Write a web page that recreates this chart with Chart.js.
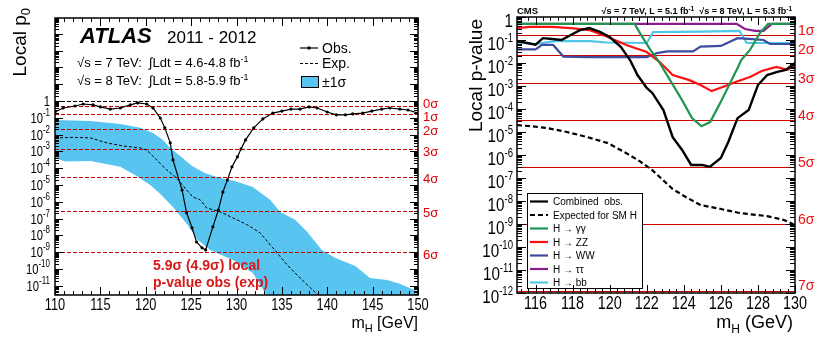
<!DOCTYPE html>
<html>
<head>
<meta charset="utf-8">
<title>Local p-value: ATLAS and CMS</title>
<script src="https://cdn.jsdelivr.net/npm/chart.js@4.4.1/dist/chart.umd.min.js"></script>
<style>
  html, body { margin: 0; padding: 0; background: #fff; }
  #wrap { position: relative; width: 823px; height: 341px; overflow: hidden; }
  canvas { position: absolute; top: 0; }
  #atlasChart { left: 0; }
  #cmsChart { left: 445px; }
</style>
</head>
<body>
<div id="wrap">
  <canvas id="atlasChart" width="445" height="341" style="width:445px;height:341px"></canvas>
  <canvas id="cmsChart" width="378" height="341" style="width:378px;height:341px"></canvas>
</div>
<script>
// ---------- left panel: ATLAS ----------
const atlasObsMass = [110.0, 110.9, 112.2, 113.1, 114.2, 115.0, 116.1, 117.2, 118.3, 119.1, 120.1, 120.8, 121.6, 122.1, 122.7, 123.0, 124.0, 124.5, 125.1, 125.6, 126.2, 126.6, 127.4, 128.0, 128.5, 129.0, 129.5, 130.1, 130.5, 131.0, 131.9, 132.9, 134.0, 135.0, 136.0, 137.0, 138.0, 138.9, 140.0, 141.0, 142.0, 142.8, 143.9, 144.9, 146.0, 146.9, 148.0, 148.9, 150.0];
const atlasObsP = [0.22, 0.38, 0.50, 0.66, 0.58, 0.44, 0.33, 0.38, 0.58, 0.76, 0.66, 0.38, 0.097, 0.025, 3.2e-3, 3.1e-4, 5e-6, 2.2e-7, 2.8e-8, 4e-9, 1.8e-9, 1.35e-9, 3.2e-8, 3.2e-7, 3.8e-6, 2e-5, 1.2e-4, 4.7e-4, 1.4e-3, 4.8e-3, 0.025, 0.085, 0.19, 0.25, 0.33, 0.33, 0.44, 0.38, 0.22, 0.15, 0.15, 0.17, 0.19, 0.25, 0.33, 0.38, 0.33, 0.29, 0.19];

const atlasExpMass = [110.0, 112.0, 113.9, 115.7, 117.5, 119.4, 120.1, 121.0, 122.3, 123.4, 124.5, 125.2, 126.0, 126.7, 128.2, 129.6, 131.2, 132.6, 134.0, 135.6, 137.0, 138.4, 139.0];
const atlasExpP = [6.3e-3, 6.8e-3, 6.3e-3, 3.2e-3, 2.1e-3, 1.6e-3, 1.2e-3, 4e-4, 7.9e-5, 2.6e-5, 5e-6, 1.9e-6, 1.3e-6, 4.3e-7, 2.5e-7, 1.1e-7, 4.2e-8, 1.4e-8, 1.8e-9, 1.7e-10, 2.9e-11, 5.6e-12, 2.8e-12];

// +1 sigma edge and -1 sigma edge of the expected band
const atlasBandHiMass = [110.0, 113.9, 117.2, 119.4, 120.8, 121.9, 122.7, 123.8, 125.1, 126.5, 128.2, 129.8, 131.8, 133.7, 134.8, 136.5, 137.8, 139.4, 140.9, 143.1, 144.7, 146.6, 148.0, 150.0];
const atlasBandHiP = [0.074, 0.065, 0.043, 0.025, 0.0125, 4.8e-3, 1.6e-3, 5.3e-4, 1.35e-4, 5.2e-5, 2.6e-5, 1.7e-5, 7.6e-6, 1.3e-6, 2.5e-7, 8.3e-8, 1.6e-8, 1.35e-9, 4.5e-10, 1.5e-10, 2.9e-11, 2.2e-11, 1.3e-11, 4.3e-12];
const atlasBandLoMass = [110.0, 111.1, 113.9, 117.2, 119.0, 120.5, 121.6, 123.0, 124.6, 125.7, 127.1, 129.6, 131.8, 133.3, 134.8, 150.0];
const atlasBandLoP = [4e-4, 2.5e-4, 2.7e-4, 1.2e-4, 3.4e-5, 1e-5, 2.9e-6, 4.9e-7, 4.2e-8, 5.4e-9, 1.35e-9, 3.4e-10, 5.8e-11, 2.8e-12, 1e-13, 1e-13];

const atlasMassTicks = [110, 115, 120, 125, 130, 135, 140, 145, 150];
const atlasPExps = [0, -1, -2, -3, -4, -5, -6, -7, -8, -9, -10, -11];
const atlasSigmaP = [0.5, 0.1587, 0.02275, 1.35e-3, 3.17e-5, 2.87e-7, 9.87e-10];
const atlasSigmaLabels = ['0σ', '1σ', '2σ', '3σ', '4σ', '5σ', '6σ'];

// ---------- right panel: CMS ----------
const cmsCombMass = [115.0, 116.0, 116.4, 116.9, 117.4, 117.9, 118.4, 118.9, 119.5, 120.0, 120.6, 121.1, 121.5, 122.0, 122.3, 122.9, 123.4, 123.9, 124.4, 125.0, 125.4, 126.0, 126.4, 126.9, 127.5, 128.0, 128.5, 129.0, 129.5, 130.0];
const cmsCombP = [0.091, 0.063, 0.12, 0.11, 0.10, 0.165, 0.27, 0.33, 0.22, 0.135, 0.05, 0.0135, 3e-3, 8.2e-4, 5e-4, 9e-5, 6e-6, 1.7e-6, 3.7e-7, 3.7e-7, 3e-7, 7.4e-7, 3.7e-6, 4e-5, 9e-5, 1.1e-3, 3e-3, 4e-3, 5e-3, 0.01];
const cmsExpMass = [115.0, 115.7, 116.6, 117.7, 118.8, 119.9, 120.9, 121.6, 122.3, 122.7, 123.4, 124.2, 124.9, 126.0, 127.0, 128.5, 129.4, 130.0];
const cmsExpP = [2e-5, 1.8e-5, 1.5e-5, 1e-5, 6e-6, 3.3e-6, 1.2e-6, 5.5e-7, 2.2e-7, 1.1e-7, 3.3e-8, 1.35e-8, 6.7e-9, 4.5e-9, 3e-9, 2.2e-9, 1.5e-9, 9e-10];
const cmsGamMass = [115.0, 121.35, 121.65, 122.2, 122.6, 123.26, 123.9, 124.44, 124.95, 125.42, 125.96, 126.5, 126.93, 127.1, 127.57, 128.1, 128.55, 130.0];
const cmsGamP = [0.5, 0.5, 0.19, 0.037, 0.0135, 1.8e-3, 2.5e-4, 4e-5, 1.8e-5, 2.7e-5, 1.8e-4, 1.35e-3, 6.7e-3, 0.0135, 0.037, 0.2, 0.5, 0.5];
const cmsZZMass = [115.0, 115.7, 116.9, 117.9, 118.9, 119.9, 120.9, 122.0, 122.7, 123.4, 124.3, 124.9, 125.5, 126.1, 126.8, 127.6, 128.2, 129.0, 129.6, 130.0];
const cmsZZP = [0.33, 0.37, 0.37, 0.33, 0.27, 0.135, 0.061, 0.03, 0.011, 3e-3, 1.8e-3, 1.1e-3, 6e-4, 9e-4, 1.5e-3, 2.5e-3, 4.5e-3, 6.7e-3, 5e-3, 8e-3];
const cmsWWMass = [115.0, 116.0, 116.35, 116.95, 117.5, 118.8, 122.0, 122.55, 123.1, 124.5, 124.9, 126.0, 126.9, 127.7, 128.3, 128.65, 130.0];
const cmsWWP = [0.039, 0.039, 0.061, 0.061, 0.019, 0.018, 0.018, 0.027, 0.032, 0.032, 0.052, 0.055, 0.12, 0.11, 0.10, 0.067, 0.067];
const cmsTauMass = [115.0, 126.85, 127.3, 127.85, 128.3, 128.75, 130.0];
const cmsTauP = [0.5, 0.5, 0.3, 0.25, 0.25, 0.5, 0.5];
const cmsBBMass = [115.0, 116.0, 117.05, 118.95, 119.85, 122.0, 122.35, 124.9, 127.0, 127.4, 130.0];
const cmsBBP = [0.078, 0.067, 0.09, 0.09, 0.078, 0.074, 0.22, 0.23, 0.25, 0.074, 0.074];

const cmsMassTicks = [116, 118, 120, 122, 124, 126, 128, 130];
const cmsPExps = [0, -1, -2, -3, -4, -5, -6, -7, -8, -9, -10, -11, -12];
const cmsSigmaP = [0.1587, 0.02275, 1.35e-3, 3.17e-5, 2.87e-7, 9.87e-10, 1.28e-12];
const cmsSigmaLabels = ['1σ', '2σ', '3σ', '4σ', '5σ', '6σ', '7σ'];

const FONT = "'Liberation Sans', Arial, Helvetica, sans-serif";
const NARROW = 0.8;   // horizontal squeeze used for the tick numbers

const pts = (xs, ys) => xs.map((x, i) => ({ x: x, y: ys[i] }));

// draw a row of text pieces (used for sub/superscripts); sx squeezes a piece horizontally
function runs(ctx, x, y, parts, align) {
    let w = 0;
    parts.forEach(p => { ctx.font = p.f; p.w = ctx.measureText(p.t).width * (p.sx || 1); w += p.w; });
    let cx = align === 'right' ? x - w : (align === 'center' ? x - w / 2 : x);
    ctx.textAlign = 'left';
    ctx.textBaseline = 'alphabetic';
    parts.forEach(p => {
        ctx.font = p.f;
        ctx.save();
        ctx.translate(cx, y + (p.dy || 0));
        ctx.scale(p.sx || 1, 1);
        ctx.fillText(p.t, 0, 0);
        ctx.restore();
        cx += p.w;
    });
}

function powLabel(ctx, x, y, e, baseFont, expFont, rise) {
    if (e === 0) {
        runs(ctx, x, y, [{ t: '1', f: baseFont, sx: NARROW }], 'right');
    } else {
        runs(ctx, x, y, [{ t: '10', f: baseFont, sx: NARROW }, { t: '-' + (-e), f: expFont, dy: -rise, sx: NARROW }], 'right');
    }
}

function xTicks(ctx, a, scale, first, step, count, isMajor, majLen, minLen) {
    ctx.beginPath();
    for (let i = 0; i < count; i++) {
        const v = Math.round((first + i * step) * 1000) / 1000;
        const x = Math.round(scale.getPixelForValue(v)) + 0.5;
        if (x < a.left - 1 || x > a.right + 1) continue;
        const len = isMajor(v) ? majLen : minLen;
        ctx.moveTo(x, a.bottom); ctx.lineTo(x, a.bottom - len);
        ctx.moveTo(x, a.top); ctx.lineTo(x, a.top + len);
    }
    ctx.stroke();
}

function logTicks(ctx, a, scale, eLo, eHi, majLen, minLen) {
    ctx.beginPath();
    for (let e = eLo; e <= eHi; e++) {
        for (let m = 1; m <= 9; m++) {
            const y = Math.round(scale.getPixelForValue(m * Math.pow(10, e))) + 0.5;
            if (y < a.top - 0.5 || y > a.bottom + 0.5) continue;
            const len = m === 1 ? majLen : minLen;
            ctx.moveTo(a.left, y); ctx.lineTo(a.left + len, y);
            ctx.moveTo(a.right, y); ctx.lineTo(a.right - len, y);
        }
    }
    ctx.stroke();
}

function hLine(ctx, a, y) {
    ctx.beginPath();
    ctx.moveTo(a.left, y);
    ctx.lineTo(a.right, y);
    ctx.stroke();
}

function baseOptions(xMin, xMax, yMin, yMax, xH, yW, pad) {
    return {
        responsive: false,
        animation: false,
        events: [],
        layout: { padding: pad },
        plugins: { legend: { display: false }, tooltip: { enabled: false } },
        scales: {
            x: {
                type: 'linear', min: xMin, max: xMax,
                grid: { display: false }, border: { display: false }, ticks: { display: false },
                afterFit: s => { s.height = xH; s.paddingLeft = 0; s.paddingRight = 0; }
            },
            y: {
                type: 'logarithmic', min: yMin, max: yMax,
                grid: { display: false }, border: { display: false }, ticks: { display: false },
                afterFit: s => { s.width = yW; s.paddingTop = 0; s.paddingBottom = 0; }
            }
        }
    };
}

// ---------- ATLAS chart ----------
const atlasDecor = {
    id: 'atlasDecor',
    beforeDatasetDraw(chart, args) {
        if (args.index !== 1) return;
        const { ctx, chartArea: a } = chart;
        const ys = chart.scales.y;
        ctx.save();
        ctx.lineWidth = 1;
        ctx.setLineDash([4, 2]);
        ctx.strokeStyle = '#000';
        hLine(ctx, a, Math.round(ys.getPixelForValue(1)) + 0.5);
        ctx.strokeStyle = '#c40000';
        atlasSigmaP.forEach(p => hLine(ctx, a, Math.round(ys.getPixelForValue(p)) + 0.5));
        ctx.restore();
    },
    afterDatasetsDraw(chart) {
        const { ctx, chartArea: a } = chart;
        const xs = chart.scales.x, ys = chart.scales.y;
        ctx.save();
        ctx.strokeStyle = '#000';
        ctx.lineWidth = 1.5;
        ctx.strokeRect(a.left, a.top, a.right - a.left, a.bottom - a.top);
        ctx.lineWidth = 1;
        xTicks(ctx, a, xs, 110, 1, 41, v => v % 5 === 0, 8, 4);
        logTicks(ctx, a, ys, -12, 4, 8, 4);

        ctx.fillStyle = '#000';
        atlasMassTicks.forEach(m => runs(ctx, xs.getPixelForValue(m), 310, [{ t: String(m), f: '16px ' + FONT, sx: NARROW }], 'center'));
        atlasPExps.forEach(e => powLabel(ctx, a.left - 5, ys.getPixelForValue(Math.pow(10, e)) + 5, e, '14px ' + FONT, '10px ' + FONT, 7));

        runs(ctx, a.right, 328, [{ t: 'm', f: '16px ' + FONT }, { t: 'H', f: '11px ' + FONT, dy: 4 }, { t: ' [GeV]', f: '16px ' + FONT }], 'right');
        ctx.save();
        ctx.translate(26, 8);
        ctx.rotate(-Math.PI / 2);
        runs(ctx, 0, 0, [{ t: 'Local p', f: '19px ' + FONT }, { t: '0', f: '13px ' + FONT, dy: 4 }], 'right');
        ctx.restore();

        runs(ctx, 80, 43, [{ t: 'ATLAS', f: 'italic bold 22px ' + FONT }], 'left');
        runs(ctx, 167, 43, [{ t: '2011 - 2012', f: '17px ' + FONT }], 'left');
        runs(ctx, 77, 67, [{ t: '√s = 7 TeV:  ∫Ldt = 4.6-4.8 fb', f: '13px ' + FONT }, { t: '-1', f: '9px ' + FONT, dy: -5 }], 'left');
        runs(ctx, 77, 85, [{ t: '√s = 8 TeV:  ∫Ldt = 5.8-5.9 fb', f: '13px ' + FONT }, { t: '-1', f: '9px ' + FONT, dy: -5 }], 'left');

        // legend
        const ds = chart.data.datasets;
        ctx.strokeStyle = '#000';
        ctx.lineWidth = 1.2;
        ctx.beginPath(); ctx.moveTo(300, 48); ctx.lineTo(318, 48); ctx.stroke();
        ctx.beginPath(); ctx.arc(309, 48, 1.8, 0, Math.PI * 2); ctx.fill();
        ctx.lineWidth = 1;
        ctx.setLineDash([3, 2]);
        ctx.beginPath(); ctx.moveTo(300, 63.5); ctx.lineTo(318, 63.5); ctx.stroke();
        ctx.setLineDash([]);
        ctx.fillStyle = ds[2].backgroundColor;
        ctx.fillRect(301, 76, 17, 11);
        ctx.strokeRect(301.5, 76.5, 17, 11);
        ctx.fillStyle = '#000';
        runs(ctx, 322, 53, [{ t: ds[0].label, f: '14px ' + FONT }], 'left');
        runs(ctx, 322, 68, [{ t: ds[1].label, f: '14px ' + FONT }], 'left');
        runs(ctx, 322, 87, [{ t: ds[2].label, f: '14px ' + FONT }], 'left');

        // sigma labels
        ctx.fillStyle = '#e00000';
        atlasSigmaP.forEach((p, i) => {
            const yy = ys.getPixelForValue(p) + (i === 0 ? -3 : 2) + 4.5;
            runs(ctx, a.right + 5, yy, [{ t: atlasSigmaLabels[i], f: '13px ' + FONT }], 'left');
        });

        ctx.fillStyle = '#d81818';
        runs(ctx, 153, 270, [{ t: '5.9σ (4.9σ) local', f: 'bold 14px ' + FONT }], 'left');
        runs(ctx, 153, 287, [{ t: 'p-value obs (exp)', f: 'bold 14px ' + FONT }], 'left');
        ctx.restore();
    }
};

new Chart(document.getElementById('atlasChart'), {
    type: 'line',
    data: {
        datasets: [
            { label: 'Obs.', data: pts(atlasObsMass, atlasObsP), borderColor: '#000', borderWidth: 1.2,
              pointRadius: 1.6, pointBackgroundColor: '#000', pointBorderWidth: 0, fill: false },
            { label: 'Exp.', data: pts(atlasExpMass, atlasExpP), borderColor: '#000', borderWidth: 1,
              borderDash: [3, 2], pointRadius: 0, fill: false },
            { label: '±1σ', data: pts(atlasBandHiMass, atlasBandHiP), borderColor: 'rgba(0,0,0,0)', borderWidth: 0,
              backgroundColor: '#58c4f0', pointRadius: 0, fill: '+1' },
            { label: '-1σ', data: pts(atlasBandLoMass, atlasBandLoP), borderColor: 'rgba(0,0,0,0)', borderWidth: 0,
              pointRadius: 0, fill: false }
        ]
    },
    options: baseOptions(110, 150, 2.8e-12, 8.7e4, 46, 55, { left: 0, right: 27, top: 18, bottom: 0 }),
    plugins: [atlasDecor]
});

// ---------- CMS chart ----------
const cmsDecor = {
    id: 'cmsDecor',
    beforeDatasetsDraw(chart) {
        const { ctx, chartArea: a } = chart;
        const ys = chart.scales.y;
        ctx.save();
        ctx.strokeStyle = '#d00000';
        ctx.lineWidth = 1;
        cmsSigmaP.forEach(p => hLine(ctx, a, Math.round(ys.getPixelForValue(p)) + 0.5));
        ctx.restore();
    },
    afterDatasetsDraw(chart) {
        const { ctx, chartArea: a } = chart;
        const xs = chart.scales.x, ys = chart.scales.y;
        ctx.save();

        // legend box
        const ds = chart.data.datasets;
        const lx = a.left + 10, ly = 193, lw = 115, lh = 95;
        ctx.fillStyle = '#fff';
        ctx.fillRect(lx, ly, lw, lh);
        ctx.strokeStyle = '#000';
        ctx.lineWidth = 1;
        ctx.strokeRect(lx + 0.5, ly + 0.5, lw, lh);
        ds.forEach((d, i) => {
            const yy = ly + 8.5 + i * 13.5;
            ctx.strokeStyle = d.borderColor;
            ctx.lineWidth = 2.2;
            ctx.setLineDash(d.borderDash || []);
            ctx.beginPath(); ctx.moveTo(lx + 3, yy); ctx.lineTo(lx + 21, yy); ctx.stroke();
            ctx.setLineDash([]);
            ctx.fillStyle = '#000';
            runs(ctx, lx + 26, yy + 3.5, [{ t: d.label, f: '10px ' + FONT }], 'left');
        });

        ctx.strokeStyle = '#000';
        ctx.lineWidth = 1.5;
        ctx.strokeRect(a.left, a.top, a.right - a.left, a.bottom - a.top);
        ctx.lineWidth = 1;
        xTicks(ctx, a, xs, 115.2, 0.4, 38, v => Math.abs(v / 2 - Math.round(v / 2)) < 0.01, 8, 4);
        logTicks(ctx, a, ys, -12, 0, 9, 5);

        ctx.fillStyle = '#000';
        cmsMassTicks.forEach(m => runs(ctx, xs.getPixelForValue(m), 309, [{ t: String(m), f: '18px ' + FONT, sx: NARROW }], 'center'));
        cmsPExps.forEach(e => powLabel(ctx, a.left - 4, ys.getPixelForValue(Math.pow(10, e)) + 10, e, '19px ' + FONT, '12px ' + FONT, 8));

        runs(ctx, a.right - 2, 328, [{ t: 'm', f: '18px ' + FONT }, { t: 'H', f: '12px ' + FONT, dy: 5 }, { t: ' (GeV)', f: '18px ' + FONT }], 'right');
        ctx.save();
        ctx.translate(37, 19);
        ctx.rotate(-Math.PI / 2);
        runs(ctx, 0, 0, [{ t: 'Local p-value', f: '19px ' + FONT }], 'right');
        ctx.restore();

        runs(ctx, a.left, 14, [{ t: 'CMS', f: 'bold 9.5px ' + FONT }], 'left');
        runs(ctx, a.right - 3, 14, [
            { t: '√s = 7 TeV, L = 5.1 fb', f: 'bold 9px ' + FONT }, { t: '-1', f: 'bold 6.5px ' + FONT, dy: -3.5 },
            { t: '  √s = 8 TeV, L = 5.3 fb', f: 'bold 9px ' + FONT }, { t: '-1', f: 'bold 6.5px ' + FONT, dy: -3.5 }
        ], 'right');

        ctx.fillStyle = '#ee1111';
        cmsSigmaP.forEach((p, i) => {
            runs(ctx, a.right + 3, ys.getPixelForValue(p) - 0.5, [{ t: cmsSigmaLabels[i], f: '14px ' + FONT }], 'left');
        });
        ctx.restore();
    }
};

const cmsLine = (label, xs, ys, color, width, dash) => ({
    label: label, data: pts(xs, ys), borderColor: color, borderWidth: width,
    borderDash: dash || [], pointRadius: 0, fill: false
});

new Chart(document.getElementById('cmsChart'), {
    type: 'line',
    data: {
        datasets: [
            cmsLine('Combined  obs.', cmsCombMass, cmsCombP, '#000000', 2.4),
            cmsLine('Expected for SM H', cmsExpMass, cmsExpP, '#000000', 2.2, [5, 3]),
            cmsLine('H → γγ', cmsGamMass, cmsGamP, '#1f9652', 2.2),
            cmsLine('H → ZZ', cmsZZMass, cmsZZP, '#ff1010', 2.2),
            cmsLine('H → WW', cmsWWMass, cmsWWP, '#3d4c9e', 2.2),
            cmsLine('H → ττ', cmsTauMass, cmsTauP, '#8a1e8e', 2.2),
            cmsLine('H → bb', cmsBBMass, cmsBBP, '#4ec8e6', 2.2)
        ]
    },
    options: baseOptions(115, 130, 1e-12, 1, 48, 72, { left: 0, right: 28, top: 17, bottom: 0 }),
    plugins: [cmsDecor]
});
</script>
</body>
</html>
